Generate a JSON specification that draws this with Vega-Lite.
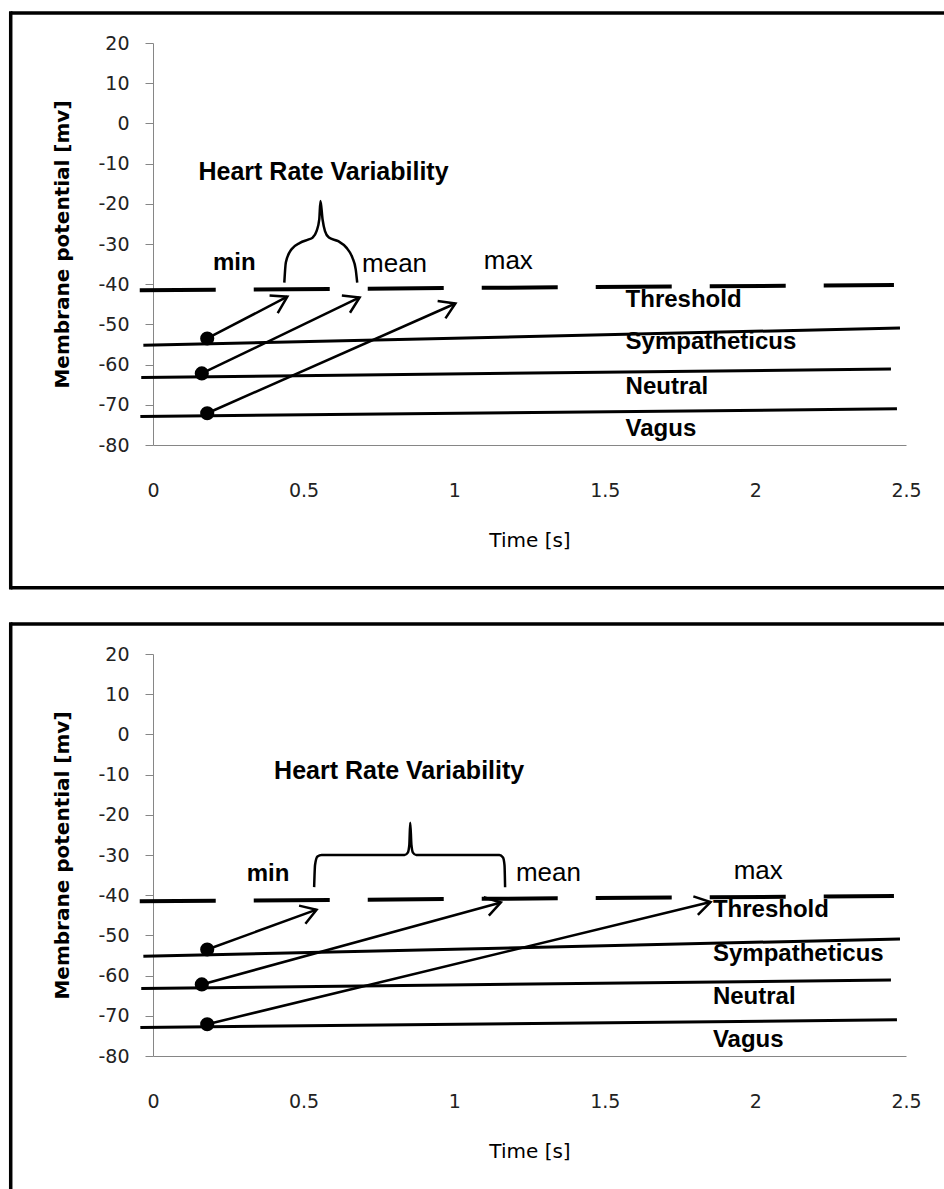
{
  "$schema": "https://vega.github.io/schema/vega-lite/v6.json",
  "padding": {"left": 8, "top": 10, "right": 0, "bottom": 0},
  "spacing": 30,
  "background": "white",
  "config": {
    "view": {"stroke": null},
    "axis": {
      "domainColor": "#868686",
      "domainWidth": 1,
      "tickColor": "#868686",
      "labelFont": "DejaVu Sans",
      "labelFontSize": 19,
      "labelColor": "#222222",
      "titleFont": "DejaVu Sans",
      "titleColor": "#000000",
      "grid": false,
      "labelFlush": false,
      "labelOverlap": false
    }
  },
  "datasets": {
    "lines": [
      {"series": "Threshold", "x": -0.044, "y": -41.5},
      {"series": "Threshold", "x": 2.46, "y": -40.2},
      {"series": "Sympatheticus", "x": -0.032, "y": -55.2},
      {"series": "Sympatheticus", "x": 2.48, "y": -50.9},
      {"series": "Neutral", "x": -0.039, "y": -63.2},
      {"series": "Neutral", "x": 2.45, "y": -61.1},
      {"series": "Vagus", "x": -0.042, "y": -72.9},
      {"series": "Vagus", "x": 2.47, "y": -71.0}
    ],
    "dots": [
      {"series": "Sympatheticus", "x": 0.18, "y": -53.5},
      {"series": "Neutral", "x": 0.162, "y": -62.2},
      {"series": "Vagus", "x": 0.18, "y": -72.1}
    ],
    "arrows": [
      {"panel": 1, "part": "A1 shaft", "ord": 1, "x": 0.18, "y": -53.5},
      {"panel": 1, "part": "A1 shaft", "ord": 2, "x": 0.446, "y": -43.1},
      {"panel": 1, "part": "A1 head", "ord": 1, "x": 0.387, "y": -42.8},
      {"panel": 1, "part": "A1 head", "ord": 2, "x": 0.446, "y": -43.1},
      {"panel": 1, "part": "A1 head", "ord": 3, "x": 0.414, "y": -47.2},
      {"panel": 1, "part": "A2 shaft", "ord": 1, "x": 0.162, "y": -62.2},
      {"panel": 1, "part": "A2 shaft", "ord": 2, "x": 0.686, "y": -43.3},
      {"panel": 1, "part": "A2 head", "ord": 1, "x": 0.627, "y": -42.8},
      {"panel": 1, "part": "A2 head", "ord": 2, "x": 0.686, "y": -43.3},
      {"panel": 1, "part": "A2 head", "ord": 3, "x": 0.654, "y": -47.1},
      {"panel": 1, "part": "A3 shaft", "ord": 1, "x": 0.18, "y": -72.1},
      {"panel": 1, "part": "A3 shaft", "ord": 2, "x": 1.004, "y": -44.8},
      {"panel": 1, "part": "A3 head", "ord": 1, "x": 0.945, "y": -44.2},
      {"panel": 1, "part": "A3 head", "ord": 2, "x": 1.004, "y": -44.8},
      {"panel": 1, "part": "A3 head", "ord": 3, "x": 0.971, "y": -48.5},
      {"panel": 2, "part": "B1 shaft", "ord": 1, "x": 0.18, "y": -53.5},
      {"panel": 2, "part": "B1 shaft", "ord": 2, "x": 0.543, "y": -43.6},
      {"panel": 2, "part": "B1 head", "ord": 1, "x": 0.485, "y": -42.6},
      {"panel": 2, "part": "B1 head", "ord": 2, "x": 0.543, "y": -43.6},
      {"panel": 2, "part": "B1 head", "ord": 3, "x": 0.506, "y": -47.1},
      {"panel": 2, "part": "B2 shaft", "ord": 1, "x": 0.162, "y": -62.2},
      {"panel": 2, "part": "B2 shaft", "ord": 2, "x": 1.155, "y": -41.8},
      {"panel": 2, "part": "B2 head", "ord": 1, "x": 1.098, "y": -40.5},
      {"panel": 2, "part": "B2 head", "ord": 2, "x": 1.155, "y": -41.8},
      {"panel": 2, "part": "B2 head", "ord": 3, "x": 1.115, "y": -45.1},
      {"panel": 2, "part": "B3 shaft", "ord": 1, "x": 0.18, "y": -72.1},
      {"panel": 2, "part": "B3 shaft", "ord": 2, "x": 1.851, "y": -41.7},
      {"panel": 2, "part": "B3 head", "ord": 1, "x": 1.794, "y": -40.3},
      {"panel": 2, "part": "B3 head", "ord": 2, "x": 1.851, "y": -41.7},
      {"panel": 2, "part": "B3 head", "ord": 3, "x": 1.809, "y": -44.9}
    ],
    "braces": [
      {"panel": 1, "ord": 1, "x": 0.436, "y": -39.6},
      {"panel": 1, "ord": 2, "x": 0.441, "y": -34.6},
      {"panel": 1, "ord": 3, "x": 0.46, "y": -31.3},
      {"panel": 1, "ord": 4, "x": 0.488, "y": -29.7},
      {"panel": 1, "ord": 5, "x": 0.515, "y": -28.9},
      {"panel": 1, "ord": 6, "x": 0.53, "y": -28.4},
      {"panel": 1, "ord": 7, "x": 0.543, "y": -26.8},
      {"panel": 1, "ord": 8, "x": 0.552, "y": -23.9},
      {"panel": 1, "ord": 9, "x": 0.556, "y": -19.3},
      {"panel": 1, "ord": 10, "x": 0.563, "y": -23.9},
      {"panel": 1, "ord": 11, "x": 0.571, "y": -26.8},
      {"panel": 1, "ord": 12, "x": 0.584, "y": -28.4},
      {"panel": 1, "ord": 13, "x": 0.615, "y": -29.3},
      {"panel": 1, "ord": 14, "x": 0.642, "y": -30.9},
      {"panel": 1, "ord": 15, "x": 0.662, "y": -33.4},
      {"panel": 1, "ord": 16, "x": 0.673, "y": -36.3},
      {"panel": 1, "ord": 17, "x": 0.678, "y": -39.6},
      {"panel": 2, "ord": 1, "x": 0.535, "y": -38.0},
      {"panel": 2, "ord": 2, "x": 0.538, "y": -32.5},
      {"panel": 2, "ord": 3, "x": 0.546, "y": -30.4},
      {"panel": 2, "ord": 4, "x": 0.56, "y": -30.0},
      {"panel": 2, "ord": 5, "x": 0.835, "y": -30.0},
      {"panel": 2, "ord": 6, "x": 0.846, "y": -29.4},
      {"panel": 2, "ord": 7, "x": 0.851, "y": -27.5},
      {"panel": 2, "ord": 8, "x": 0.854, "y": -22.0},
      {"panel": 2, "ord": 9, "x": 0.858, "y": -27.5},
      {"panel": 2, "ord": 10, "x": 0.863, "y": -29.4},
      {"panel": 2, "ord": 11, "x": 0.874, "y": -30.0},
      {"panel": 2, "ord": 12, "x": 1.15, "y": -30.0},
      {"panel": 2, "ord": 13, "x": 1.162, "y": -30.6},
      {"panel": 2, "ord": 14, "x": 1.167, "y": -32.5},
      {"panel": 2, "ord": 15, "x": 1.169, "y": -38.0}
    ],
    "labels": [
      {"panel": 1, "role": "title", "text": "Heart Rate Variability", "x": 0.151, "y": -14.0},
      {"panel": 1, "role": "min", "text": "min", "x": 0.199, "y": -36.5},
      {"panel": 1, "role": "mean", "text": "mean", "x": 0.694, "y": -36.9},
      {"panel": 1, "role": "max", "text": "max", "x": 1.098, "y": -36.3},
      {"panel": 1, "role": "series", "text": "Threshold", "x": 1.569, "y": -45.6},
      {"panel": 1, "role": "series", "text": "Sympatheticus", "x": 1.569, "y": -56.2},
      {"panel": 1, "role": "series", "text": "Neutral", "x": 1.569, "y": -67.2},
      {"panel": 1, "role": "series", "text": "Vagus", "x": 1.569, "y": -77.8},
      {"panel": 2, "role": "title", "text": "Heart Rate Variability", "x": 0.402, "y": -11.2},
      {"panel": 2, "role": "min", "text": "min", "x": 0.311, "y": -36.4},
      {"panel": 2, "role": "mean", "text": "mean", "x": 1.205, "y": -36.4},
      {"panel": 2, "role": "max", "text": "max", "x": 1.928, "y": -36.0},
      {"panel": 2, "role": "series", "text": "Threshold", "x": 1.859, "y": -45.4},
      {"panel": 2, "role": "series", "text": "Sympatheticus", "x": 1.859, "y": -56.4},
      {"panel": 2, "role": "series", "text": "Neutral", "x": 1.859, "y": -67.0},
      {"panel": 2, "role": "series", "text": "Vagus", "x": 1.859, "y": -77.8}
    ]
  },
  "vconcat": [
    {
      "width": 753,
      "height": 402,
      "layer": [
        {"data": {"values": [{}]}, "mark": {"type": "rule", "color": "black", "strokeWidth": 3.5, "strokeCap": "butt"},
          "encoding": {"x": {"datum": -0.4724, "type": "quantitative"}, "x2": {"datum": 2.628}, "y": {"datum": 27.46, "type": "quantitative"}}},
        {"data": {"values": [{}]}, "mark": {"type": "rule", "color": "black", "strokeWidth": 3.5, "strokeCap": "butt"},
          "encoding": {"x": {"datum": -0.4724, "type": "quantitative"}, "x2": {"datum": 2.628}, "y": {"datum": -115.53, "type": "quantitative"}}},
        {"data": {"values": [{}]}, "mark": {"type": "rule", "color": "black", "strokeWidth": 3.5, "strokeCap": "square"},
          "encoding": {"x": {"datum": -0.4724, "type": "quantitative"}, "y": {"datum": 27.46, "type": "quantitative"}, "y2": {"datum": -115.53}}},
        {
          "encoding": {
            "x": {"field": "x", "type": "quantitative", "scale": {"domain": [0, 2.5], "nice": false, "zero": false},
              "axis": {"values": [0, 0.5, 1, 1.5, 2, 2.5], "labelExpr": "'' + datum.value", "title": "Time [s]", "titleFontWeight": "normal", "titleFontSize": 20, "titlePadding": 30, "ticks": false, "tickSize": 0, "labelPadding": 36}},
            "y": {"field": "y", "type": "quantitative", "scale": {"domain": [-80, 20], "nice": false, "zero": false},
              "axis": {"values": [-80, -70, -60, -50, -40, -30, -20, -10, 0, 10, 20], "labelExpr": "'' + datum.value", "title": "Membrane potential [mv]", "titleFontWeight": "bold", "titleFontSize": 20, "titlePadding": 25, "tickSize": 8, "labelPadding": 16}}
          },
          "layer": [
            {"data": {"name": "lines"}, "transform": [{"filter": "datum.series === 'Threshold'"}],
              "mark": {"type": "line", "color": "black", "strokeWidth": 4, "strokeDash": [76, 38], "strokeCap": "butt"},
              "encoding": {"detail": {"field": "series"}}},
            {"data": {"name": "lines"}, "transform": [{"filter": "datum.series !== 'Threshold'"}],
              "mark": {"type": "line", "color": "black", "strokeWidth": 3},
              "encoding": {"detail": {"field": "series"}}},
            {"data": {"name": "arrows"}, "transform": [{"filter": "datum.panel === 1"}],
              "mark": {"type": "line", "color": "black", "strokeWidth": 2.5, "strokeJoin": "miter"},
              "encoding": {"detail": {"field": "part"}, "order": {"field": "ord"}}},
            {"data": {"name": "braces"}, "transform": [{"filter": "datum.panel === 1"}],
              "mark": {"type": "line", "color": "black", "strokeWidth": 2.5, "interpolate": "monotone"},
              "encoding": {"order": {"field": "ord"}}},
            {"data": {"name": "dots"}, "mark": {"type": "point", "shape": "circle", "filled": true, "color": "black", "opacity": 1, "size": 200},
              "encoding": {}},
            {"data": {"name": "labels"}, "transform": [{"filter": "datum.panel === 1 && datum.role === 'title'"}],
              "mark": {"type": "text", "align": "left", "baseline": "alphabetic", "font": "Liberation Sans", "fontWeight": "bold", "fontSize": 25, "color": "black"},
              "encoding": {"text": {"field": "text"}}},
            {"data": {"name": "labels"}, "transform": [{"filter": "datum.panel === 1 && (datum.role === 'min' || datum.role === 'series')"}],
              "mark": {"type": "text", "align": "left", "baseline": "alphabetic", "font": "Liberation Sans", "fontWeight": "bold", "fontSize": 24, "color": "black"},
              "encoding": {"text": {"field": "text"}}},
            {"data": {"name": "labels"}, "transform": [{"filter": "datum.panel === 1 && (datum.role === 'mean' || datum.role === 'max')"}],
              "mark": {"type": "text", "align": "left", "baseline": "alphabetic", "font": "Liberation Sans", "fontWeight": "normal", "fontSize": 26, "color": "black"},
              "encoding": {"text": {"field": "text"}}}
          ]
        }
      ]
    },
    {
      "width": 753,
      "height": 402,
      "layer": [
        {"data": {"values": [{}]}, "mark": {"type": "rule", "color": "black", "strokeWidth": 3.5, "strokeCap": "butt"},
          "encoding": {"x": {"datum": -0.4724, "type": "quantitative"}, "x2": {"datum": 2.628}, "y": {"datum": 27.46, "type": "quantitative"}}},
        {"data": {"values": [{}]}, "mark": {"type": "rule", "color": "black", "strokeWidth": 3.5, "strokeCap": "square"},
          "encoding": {"x": {"datum": -0.4724, "type": "quantitative"}, "y": {"datum": 27.46, "type": "quantitative"}, "y2": {"datum": -113.3}}},
        {
          "encoding": {
            "x": {"field": "x", "type": "quantitative", "scale": {"domain": [0, 2.5], "nice": false, "zero": false},
              "axis": {"values": [0, 0.5, 1, 1.5, 2, 2.5], "labelExpr": "'' + datum.value", "title": "Time [s]", "titleFontWeight": "normal", "titleFontSize": 20, "titlePadding": 30, "ticks": false, "tickSize": 0, "labelPadding": 36}},
            "y": {"field": "y", "type": "quantitative", "scale": {"domain": [-80, 20], "nice": false, "zero": false},
              "axis": {"values": [-80, -70, -60, -50, -40, -30, -20, -10, 0, 10, 20], "labelExpr": "'' + datum.value", "title": "Membrane potential [mv]", "titleFontWeight": "bold", "titleFontSize": 20, "titlePadding": 25, "tickSize": 8, "labelPadding": 16}}
          },
          "layer": [
            {"data": {"name": "lines"}, "transform": [{"filter": "datum.series === 'Threshold'"}],
              "mark": {"type": "line", "color": "black", "strokeWidth": 4, "strokeDash": [76, 38], "strokeCap": "butt"},
              "encoding": {"detail": {"field": "series"}}},
            {"data": {"name": "lines"}, "transform": [{"filter": "datum.series !== 'Threshold'"}],
              "mark": {"type": "line", "color": "black", "strokeWidth": 3},
              "encoding": {"detail": {"field": "series"}}},
            {"data": {"name": "arrows"}, "transform": [{"filter": "datum.panel === 2"}],
              "mark": {"type": "line", "color": "black", "strokeWidth": 2.5, "strokeJoin": "miter"},
              "encoding": {"detail": {"field": "part"}, "order": {"field": "ord"}}},
            {"data": {"name": "braces"}, "transform": [{"filter": "datum.panel === 2"}],
              "mark": {"type": "line", "color": "black", "strokeWidth": 2.5, "interpolate": "monotone"},
              "encoding": {"order": {"field": "ord"}}},
            {"data": {"name": "dots"}, "mark": {"type": "point", "shape": "circle", "filled": true, "color": "black", "opacity": 1, "size": 200},
              "encoding": {}},
            {"data": {"name": "labels"}, "transform": [{"filter": "datum.panel === 2 && datum.role === 'title'"}],
              "mark": {"type": "text", "align": "left", "baseline": "alphabetic", "font": "Liberation Sans", "fontWeight": "bold", "fontSize": 25, "color": "black"},
              "encoding": {"text": {"field": "text"}}},
            {"data": {"name": "labels"}, "transform": [{"filter": "datum.panel === 2 && (datum.role === 'min' || datum.role === 'series')"}],
              "mark": {"type": "text", "align": "left", "baseline": "alphabetic", "font": "Liberation Sans", "fontWeight": "bold", "fontSize": 24, "color": "black"},
              "encoding": {"text": {"field": "text"}}},
            {"data": {"name": "labels"}, "transform": [{"filter": "datum.panel === 2 && (datum.role === 'mean' || datum.role === 'max')"}],
              "mark": {"type": "text", "align": "left", "baseline": "alphabetic", "font": "Liberation Sans", "fontWeight": "normal", "fontSize": 26, "color": "black"},
              "encoding": {"text": {"field": "text"}}}
          ]
        }
      ]
    }
  ]
}
